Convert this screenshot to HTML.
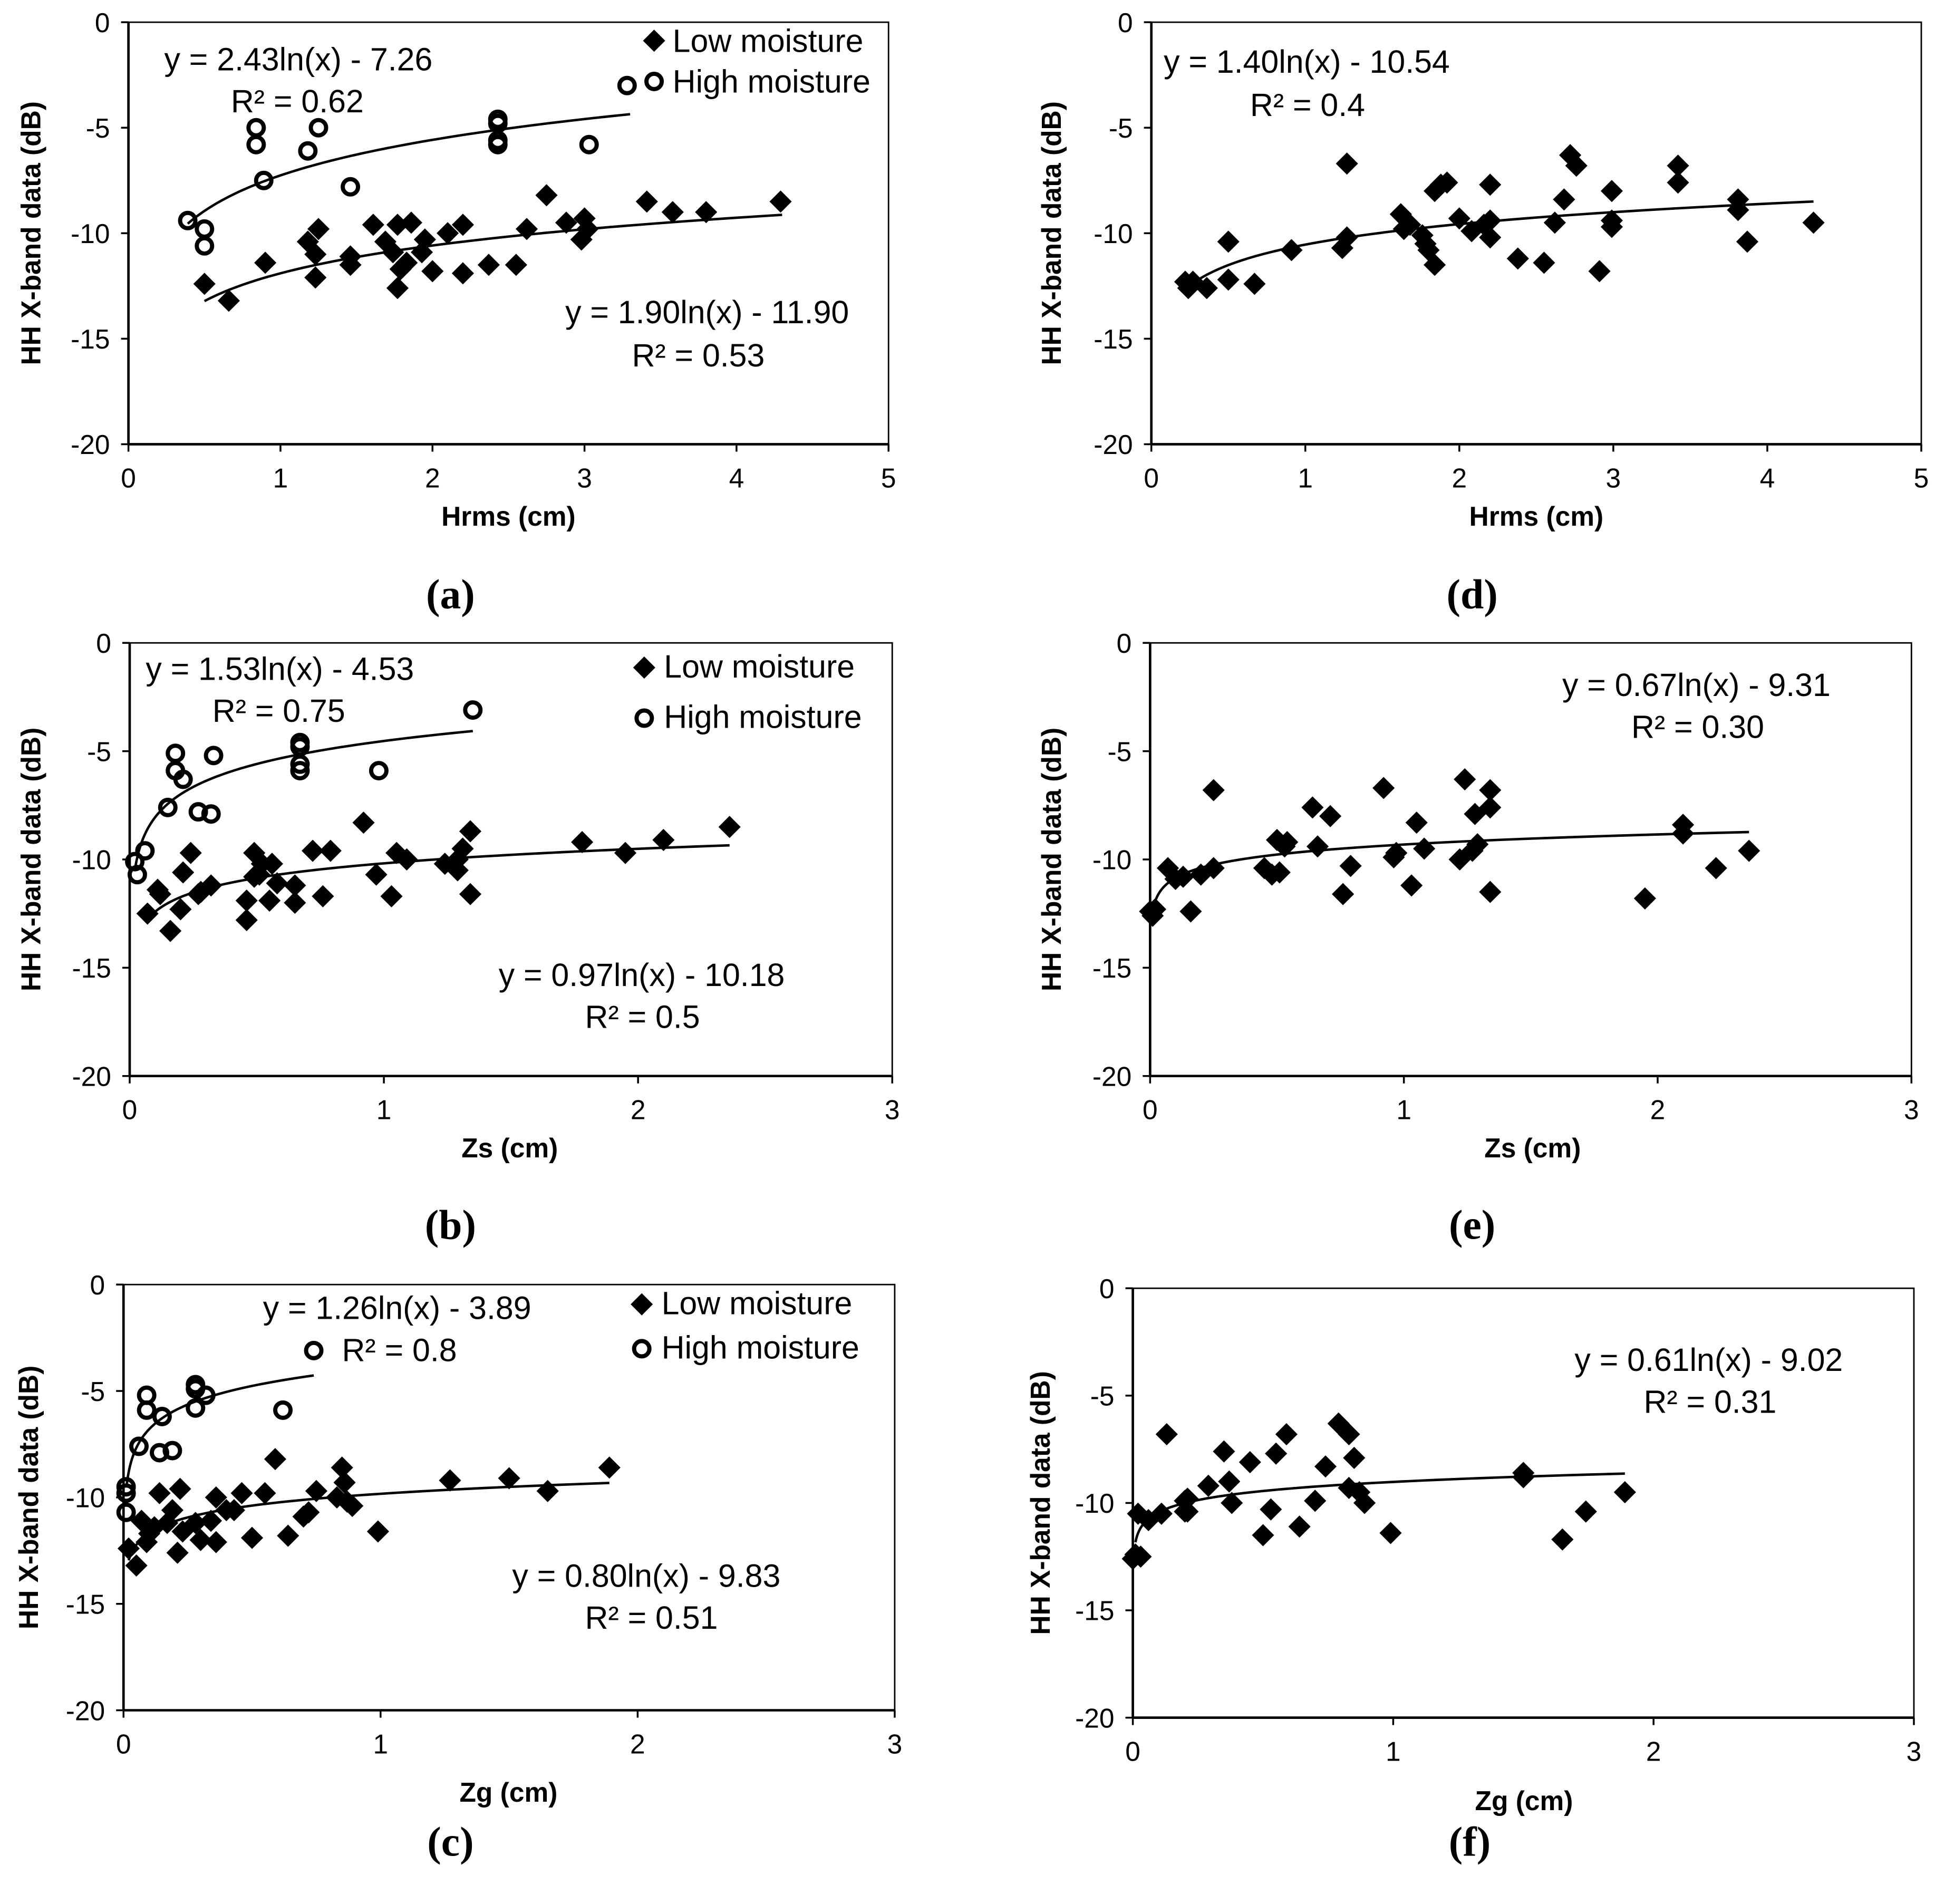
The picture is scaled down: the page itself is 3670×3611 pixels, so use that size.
<!DOCTYPE html>
<html>
<head>
<meta charset="utf-8">
<style>
html,body{margin:0;padding:0;background:#fff;}
svg{display:block;}
text{font-family:"Liberation Sans",sans-serif;fill:#000;}
</style>
</head>
<body>
<svg id="fig" width="3670" height="3611" viewBox="0 0 1568 1543" xmlns="http://www.w3.org/2000/svg"></svg>
<script>
// ---------- DATA ----------
const aLowX = [0.5,0.66,0.9,1.18,1.23,1.25,1.23,1.46,1.46,1.61,1.69,1.74,1.77,1.77,1.79,1.86,1.83,1.93,1.95,2.0,2.1,2.2,2.2,2.37,2.55,2.62,2.75,2.88,2.98,3.0,3.41,3.58,3.8,4.29,3.02];
const aLowY = [-12.4,-13.2,-11.4,-10.4,-12.1,-9.8,-11.0,-11.5,-11.1,-9.6,-10.4,-10.9,-9.6,-12.6,-11.7,-9.5,-11.4,-10.9,-10.3,-11.8,-10.0,-9.6,-11.9,-11.5,-11.5,-9.8,-8.2,-9.5,-10.3,-9.3,-8.5,-9.0,-9.0,-8.5,-9.8];
const aHighX = [0.39,0.5,0.5,0.84,0.84,0.89,1.18,1.25,1.46,2.43,2.43,2.43,2.43,3.03,3.28];
const aHighY = [-9.4,-9.8,-10.6,-5.0,-5.8,-7.5,-6.1,-5.0,-7.8,-4.6,-4.8,-5.6,-5.8,-5.8,-3.0];
const dX = [0.22,0.24,0.36,0.27,0.5,0.5,0.67,0.91,1.24,1.27,1.27,1.62,1.64,1.68,1.76,1.78,1.8,1.84,1.84,1.88,1.92,2.0,2.08,2.16,2.2,2.2,2.2,2.38,2.55,2.62,2.68,2.72,2.76,2.91,2.99,2.99,2.99,3.42,3.42,3.81,3.81,3.87,4.3];
const dY = [-12.3,-12.6,-12.6,-12.3,-10.4,-12.2,-12.4,-10.8,-10.7,-10.2,-6.7,-9.1,-9.8,-9.6,-10.1,-10.5,-10.8,-11.5,-8.0,-7.7,-7.6,-9.3,-9.9,-9.6,-10.2,-9.4,-7.7,-11.2,-11.4,-9.5,-8.4,-6.3,-6.8,-11.8,-9.4,-9.7,-8.0,-7.6,-6.8,-8.4,-8.9,-10.4,-9.5];
const bLowX = [0.07,0.12,0.16,0.11,0.2,0.21,0.24,0.27,0.28,0.32,0.46,0.46,0.49,0.49,0.51,0.52,0.55,0.56,0.58,0.65,0.65,0.72,0.76,0.79,0.92,0.97,1.03,1.05,1.09,1.24,1.29,1.29,1.31,1.34,1.34,1.78,1.95,2.1,2.36];
const bLowY = [-12.5,-11.6,-13.3,-11.4,-12.3,-10.6,-9.7,-11.6,-11.5,-11.2,-12.8,-11.9,-9.7,-10.8,-10.7,-10.2,-11.9,-10.2,-11.1,-12.0,-11.2,-9.6,-11.7,-9.6,-8.3,-10.7,-11.7,-9.7,-10.0,-10.2,-10.0,-10.5,-9.5,-8.7,-11.6,-9.2,-9.7,-9.1,-8.5];
const bHighX = [0.02,0.03,0.06,0.15,0.18,0.18,0.21,0.27,0.32,0.33,0.67,0.67,0.67,0.67,0.98,1.35];
const bHighY = [-10.1,-10.7,-9.6,-7.6,-5.1,-5.9,-6.3,-7.8,-7.9,-5.2,-4.6,-4.8,-5.6,-5.9,-5.9,-3.1];
const eX = [0,0.01,0.02,0.07,0.1,0.13,0.16,0.2,0.25,0.25,0.45,0.48,0.5,0.51,0.53,0.54,0.64,0.66,0.71,0.76,0.79,0.92,0.96,0.97,1.03,1.05,1.08,1.22,1.24,1.27,1.28,1.29,1.34,1.34,1.34,1.95,2.1,2.1,2.23,2.36];
const eY = [-12.4,-12.6,-12.3,-10.4,-10.9,-10.8,-12.4,-10.7,-10.4,-6.8,-10.4,-10.7,-9.1,-10.6,-9.4,-9.2,-7.6,-9.4,-8.0,-11.6,-10.3,-6.7,-9.9,-9.7,-11.2,-8.3,-9.5,-10.0,-6.3,-9.6,-7.9,-9.3,-7.6,-6.8,-11.5,-11.8,-8.4,-8.8,-10.4,-9.6];
const cLowX = [0.02,0.05,0.07,0.09,0.1,0.12,0.14,0.17,0.19,0.21,0.22,0.23,0.28,0.3,0.34,0.36,0.36,0.4,0.43,0.46,0.5,0.55,0.59,0.64,0.7,0.72,0.75,0.83,0.85,0.86,0.87,0.89,0.99,1.27,1.5,1.65,1.89];
const cLowY = [-12.4,-13.2,-11.1,-12.1,-11.7,-11.4,-9.8,-11.2,-10.6,-12.6,-9.6,-11.6,-11.2,-12.0,-11.1,-12.1,-10.0,-10.6,-10.6,-9.8,-11.9,-9.8,-8.2,-11.8,-10.9,-10.7,-9.7,-10.0,-8.6,-9.3,-10.2,-10.4,-11.6,-9.2,-9.1,-9.7,-8.6];
const cHighX = [0.01,0.01,0.01,0.06,0.09,0.09,0.15,0.14,0.19,0.28,0.28,0.28,0.32,0.62,0.74];
const cHighY = [-9.5,-9.8,-10.7,-7.6,-5.2,-5.9,-6.2,-7.9,-7.8,-4.7,-4.9,-5.8,-5.2,-5.9,-3.1];
const fX = [0,0.01,0.02,0.03,0.06,0.13,0.11,0.2,0.21,0.29,0.35,0.37,0.38,0.45,0.5,0.53,0.55,0.59,0.64,0.7,0.74,0.79,0.83,0.83,0.85,0.87,0.89,0.99,1.5,1.5,1.65,1.74,1.89,0.2,0.21];
const fY = [-12.6,-12.4,-10.5,-12.5,-10.8,-6.8,-10.5,-9.9,-10.4,-9.2,-7.6,-9.0,-10.0,-8.1,-11.5,-10.3,-7.7,-6.8,-11.1,-9.9,-8.3,-6.3,-6.8,-9.3,-7.9,-9.5,-10.0,-11.4,-8.6,-8.8,-11.7,-10.4,-9.5,-10.4,-9.8];
const xTicksA = [0,1,2,3,4,5];
const xTicksB = [0,1,2,3];
const yTicks = [0,-5,-10,-15,-20];

// ---------- LAYOUT ----------
const NS="http://www.w3.org/2000/svg";
const svg=document.getElementById('fig');
function mk(tag,attrs,parent){const e=document.createElementNS(NS,tag);for(const k in attrs)e.setAttribute(k,attrs[k]);(parent||svg).appendChild(e);return e;}
function txt(s,x,y,size,opts,parent){const t=mk('text',Object.assign({x:x,y:y,'font-size':size},opts||{}),parent);t.textContent=s;return t;}

const panels=[
 {id:'a',x0:104,x1:720,xmax:5,y0:18,y1:360,xt:xTicksA,xlabel:'Hrms (cm)',xlx:412,xly:426,ylx:25,lab:'(a)',labx:365,laby:493,
  series:[{xs:aLowX,ys:aLowY,m:'d',fit:[1.90,-11.90,0.5,4.3]},{xs:aHighX,ys:aHighY,m:'o',fit:[2.43,-7.26,0.39,3.3]}],
  eqs:[['y = 2.43ln(x) - 7.26',133,57],['R² = 0.62',187,91],['y = 1.90ln(x) - 11.90',458,262],['R² = 0.53',512,297]],
  legend:[530,33,545,42,530,66,545,75]},
 {id:'d',x0:933,x1:1557,xmax:5,y0:18,y1:360,xt:xTicksA,xlabel:'Hrms (cm)',xlx:1245,xly:426,ylx:852,lab:'(d)',labx:1193,laby:493,
  series:[{xs:dX,ys:dY,m:'d',fit:[1.40,-10.54,0.22,4.3]}],
  eqs:[['y = 1.40ln(x) - 10.54',943,59],['R² = 0.4',1013,94]]},
 {id:'b',x0:105,x1:723,xmax:3,y0:521,y1:872,xt:xTicksB,xlabel:'Zs (cm)',xlx:413,xly:938,ylx:25,lab:'(b)',labx:365,laby:1004,
  series:[{xs:bLowX,ys:bLowY,m:'d',fit:[0.97,-10.18,0.07,2.36]},{xs:bHighX,ys:bHighY,m:'o',fit:[1.53,-4.53,0.02,1.35]}],
  eqs:[['y = 1.53ln(x) - 4.53',118,551],['R² = 0.75',172,585],['y = 0.97ln(x) - 10.18',404,799],['R² = 0.5',474,833]],
  legend:[522,541,538,549,522,582,538,590]},
 {id:'e',x0:932,x1:1549,xmax:3,y0:521,y1:872,xt:xTicksB,xlabel:'Zs (cm)',xlx:1242,xly:938,ylx:852,lab:'(e)',labx:1193,laby:1004,
  series:[{xs:eX,ys:eY,m:'d',fit:[0.67,-9.31,0.006,2.36]}],
  eqs:[['y = 0.67ln(x) - 9.31',1266,564],['R² = 0.30',1322,598]]},
 {id:'c',x0:100,x1:725,xmax:3,y0:1041,y1:1386,xt:xTicksB,xlabel:'Zg (cm)',xlx:412,xly:1460,ylx:23,lab:'(c)',labx:365,laby:1504,
  series:[{xs:cLowX,ys:cLowY,m:'d',fit:[0.80,-9.83,0.02,1.89]},{xs:cHighX,ys:cHighY,m:'o',fit:[1.26,-3.89,0.012,0.74]}],
  eqs:[['y = 1.26ln(x) - 3.89',213,1069],['R² = 0.8',277,1103],['y = 0.80ln(x) - 9.83',415,1286],['R² = 0.51',474,1320]],
  legend:[520,1057,536,1065,520,1093,536,1101]},
 {id:'f',x0:918,x1:1551,xmax:3,y0:1044,y1:1392,xt:xTicksB,xlabel:'Zg (cm)',xlx:1235,xly:1467,ylx:843,lab:'(f)',labx:1191,laby:1504,
  series:[{xs:fX,ys:fY,m:'d',fit:[0.61,-9.02,0.01,1.89]}],
  eqs:[['y = 0.61ln(x) - 9.02',1276,1111],['R² = 0.31',1332,1145]]}
];

function diamond(cx,cy,g){const s=9;return mk('polygon',{points:`${cx},${cy-s} ${cx+s},${cy} ${cx},${cy+s} ${cx-s},${cy}`,fill:'#000'},g);}
function circ(cx,cy,g){return mk('circle',{cx:cx,cy:cy,r:6.2,fill:'none',stroke:'#000','stroke-width':3.4},g);}

panels.forEach(p=>{
  const g=mk('g',{});
  
  
  const sx=v=>p.x0+(p.x1-p.x0)*v/p.xmax;
  const sy=v=>p.y0+(p.y1-p.y0)*(-v)/20;
  const fr=mk('rect',{x:p.x0,y:p.y0,width:p.x1-p.x0,height:p.y1-p.y0,fill:'none',stroke:'#000','stroke-width':1.2},g);
  
  
  const ax=mk('line',{x1:p.x0,y1:p.y1,x2:p.x1,y2:p.y1,stroke:'#000','stroke-width':2},g);
  
  
  const ay=mk('line',{x1:p.x0,y1:p.y0,x2:p.x0,y2:p.y1,stroke:'#000','stroke-width':2},g);
  
  
  p.xt.forEach(v=>{
    mk('line',{x1:sx(v),y1:p.y1,x2:sx(v),y2:p.y1+6,stroke:'#000','stroke-width':1.5},g);
    const t=txt(String(v),sx(v),p.y1+35,22,{'text-anchor':'middle'},g);
    
    
  });
  yTicks.forEach(v=>{
    mk('line',{x1:p.x0-6,y1:sy(v),x2:p.x0,y2:sy(v),stroke:'#000','stroke-width':1.5},g);
    const t=txt(String(v),p.x0-15,sy(v)+8,22,{'text-anchor':'end'},g);
    
    
  });
  const xl=txt(p.xlabel,p.xlx,p.xly,22,{'text-anchor':'middle','font-weight':'bold'},g);
  
  
  const yc=(p.y0+p.y1)/2;
  const yl=txt('HH X-band data (dB)',p.ylx,yc,22,{'text-anchor':'middle','font-weight':'bold',transform:`rotate(-90 ${p.ylx} ${yc})`,'dominant-baseline':'central'},g);
  
  
  p.series.forEach((s,si)=>{
    const [a,b,lo,hi]=s.fit;
    let d='';
    for(let i=0;i<=120;i++){const x=lo*Math.pow(hi/lo,i/120);const y=a*Math.log(x)+b;d+=(i?'L':'M')+sx(x).toFixed(2)+','+sy(y).toFixed(2);}
    const tl=mk('path',{d:d,fill:'none',stroke:'#000','stroke-width':2},g);
    
    
    s.xs.forEach((x,i)=>{
      const el=s.m==='d'?diamond(sx(x),sy(s.ys[i]),g):circ(sx(x),sy(s.ys[i]),g);
      
      
    });
  });
  p.eqs.forEach(e=>{
    const t=txt(e[0],e[1],e[2],26,{},g);
    
    
  });
  if(p.legend){
    const L=p.legend;
    const d1=diamond(L[0],L[1],g);
    
    
    const t1=txt('Low moisture',L[2],L[3],26,{},g);
    
    
    const c1=circ(L[4],L[5],g);
    
    
    const t2=txt('High moisture',L[6],L[7],26,{},g);
    
    
  }
  const pl=txt(p.lab,p.labx,p.laby,34,{'text-anchor':'middle','font-weight':'bold',style:'font-family:"Liberation Serif",serif'},g);
  
  
});
</script>
</body>
</html>
